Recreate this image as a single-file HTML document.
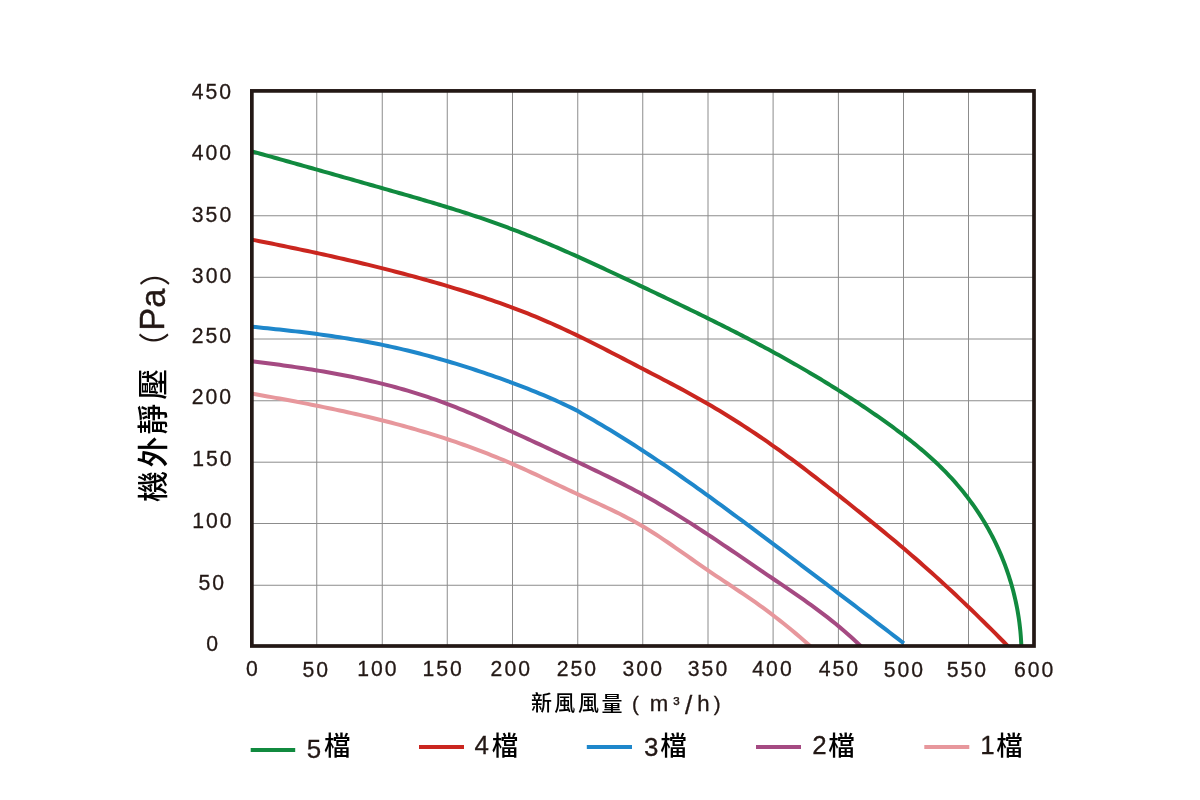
<!DOCTYPE html>
<html lang="zh-Hant"><head><meta charset="utf-8"><title>風量-靜壓曲線</title>
<style>html,body{margin:0;padding:0;background:#fff}body{width:1200px;height:800px;overflow:hidden}svg{display:block}.n{font-family:"Liberation Sans",sans-serif;fill:#231815}.c{font-family:"Liberation Sans","Noto Sans CJK TC",sans-serif;fill:#000;font-weight:500}.p{font-family:"Liberation Sans","Noto Sans CJK TC",sans-serif;fill:#231815;font-weight:400}.n{font-weight:400;stroke:#231815;stroke-width:.3px}#txt{opacity:.999}</style></head><body>
<svg width="1200" height="800" viewBox="0 0 1200 800">
<rect width="1200" height="800" fill="#fff"/>
<g stroke="#8c8c8c" stroke-width="1" fill="none">
<line x1="316.75" y1="90.9" x2="316.75" y2="646.0"/>
<line x1="382.25" y1="90.9" x2="382.25" y2="646.0"/>
<line x1="447.25" y1="90.9" x2="447.25" y2="646.0"/>
<line x1="512.5" y1="90.9" x2="512.5" y2="646.0"/>
<line x1="577.75" y1="90.9" x2="577.75" y2="646.0"/>
<line x1="642.75" y1="90.9" x2="642.75" y2="646.0"/>
<line x1="708.0" y1="90.9" x2="708.0" y2="646.0"/>
<line x1="773.1" y1="90.9" x2="773.1" y2="646.0"/>
<line x1="838.4" y1="90.9" x2="838.4" y2="646.0"/>
<line x1="903.5" y1="90.9" x2="903.5" y2="646.0"/>
<line x1="968.5" y1="90.9" x2="968.5" y2="646.0"/>
<line x1="251.85" y1="154.25" x2="1034.0" y2="154.25"/>
<line x1="251.85" y1="215.75" x2="1034.0" y2="215.75"/>
<line x1="251.85" y1="277.3" x2="1034.0" y2="277.3"/>
<line x1="251.85" y1="339.0" x2="1034.0" y2="339.0"/>
<line x1="251.85" y1="400.75" x2="1034.0" y2="400.75"/>
<line x1="251.85" y1="462.2" x2="1034.0" y2="462.2"/>
<line x1="251.85" y1="523.5" x2="1034.0" y2="523.5"/>
<line x1="251.85" y1="585.25" x2="1034.0" y2="585.25"/>
</g>
<clipPath id="plot"><rect x="251.85" y="90.9" width="782.15" height="555.1"/></clipPath>
<g clip-path="url(#plot)" fill="none" stroke-width="4.0" stroke-linejoin="round" stroke-linecap="butt">
<path stroke="#e7979c" d="M251.60,393.55 L255.60,394.26 L259.60,394.97 L263.60,395.69 L267.60,396.41 L271.60,397.13 L275.60,397.86 L279.60,398.59 L283.60,399.33 L287.60,400.07 L291.60,400.82 L295.60,401.58 L299.60,402.34 L303.60,403.11 L307.60,403.89 L311.60,404.68 L315.60,405.47 L319.60,406.28 L323.60,407.09 L327.60,407.92 L331.60,408.75 L335.60,409.60 L339.60,410.45 L343.60,411.32 L347.60,412.20 L351.60,413.09 L355.60,414.00 L359.60,414.92 L363.60,415.85 L367.60,416.79 L371.60,417.75 L375.60,418.73 L379.60,419.72 L383.60,420.72 L387.60,421.75 L391.60,422.78 L395.60,423.84 L399.60,424.91 L403.60,426.00 L407.60,427.11 L411.60,428.24 L415.60,429.38 L419.60,430.55 L423.60,431.73 L427.60,432.93 L431.60,434.16 L435.60,435.41 L439.60,436.67 L443.60,437.96 L447.60,439.27 L451.60,440.61 L455.60,441.96 L459.60,443.34 L463.60,444.75 L467.60,446.17 L471.60,447.63 L475.60,449.10 L479.60,450.61 L483.60,452.14 L487.60,453.69 L491.60,455.27 L495.60,456.88 L499.60,458.52 L503.60,460.18 L507.60,461.87 L511.60,463.60 L515.60,465.34 L519.60,467.12 L523.60,468.92 L527.60,470.75 L531.60,472.59 L535.60,474.44 L539.60,476.31 L543.60,478.19 L547.60,480.08 L551.60,481.97 L555.60,483.87 L559.60,485.76 L563.60,487.65 L567.60,489.54 L571.60,491.41 L575.60,493.27 L579.60,495.12 L583.60,496.96 L587.60,498.78 L591.60,500.61 L595.60,502.44 L599.60,504.28 L603.60,506.13 L607.60,508.01 L611.60,509.91 L615.60,511.85 L619.60,513.83 L623.60,515.85 L627.60,517.93 L631.60,520.06 L635.60,522.25 L639.60,524.51 L643.60,526.85 L647.60,529.27 L651.60,531.75 L655.60,534.30 L659.60,536.91 L663.60,539.57 L667.60,542.27 L671.60,545.00 L675.60,547.77 L679.60,550.56 L683.60,553.36 L687.60,556.18 L691.60,558.99 L695.60,561.80 L699.60,564.60 L703.60,567.37 L707.60,570.13 L711.60,572.85 L715.60,575.54 L719.60,578.21 L723.60,580.87 L727.60,583.52 L731.60,586.17 L735.60,588.83 L739.60,591.50 L743.60,594.19 L747.60,596.91 L751.60,599.67 L755.60,602.47 L759.60,605.31 L763.60,608.21 L767.60,611.16 L771.60,614.17 L775.60,617.24 L779.60,620.36 L783.60,623.53 L787.60,626.76 L791.60,630.04 L795.60,633.38 L799.60,636.77 L803.60,640.21 L807.60,643.71 L811.60,647.26"/>
<path stroke="#a54a82" d="M251.60,361.24 L255.60,361.73 L259.60,362.23 L263.60,362.74 L267.60,363.26 L271.60,363.78 L275.60,364.31 L279.60,364.85 L283.60,365.40 L287.60,365.96 L291.60,366.53 L295.60,367.11 L299.60,367.70 L303.60,368.31 L307.60,368.93 L311.60,369.56 L315.60,370.21 L319.60,370.87 L323.60,371.55 L327.60,372.25 L331.60,372.96 L335.60,373.69 L339.60,374.44 L343.60,375.21 L347.60,376.00 L351.60,376.81 L355.60,377.64 L359.60,378.49 L363.60,379.37 L367.60,380.26 L371.60,381.18 L375.60,382.13 L379.60,383.10 L383.60,384.10 L387.60,385.12 L391.60,386.17 L395.60,387.25 L399.60,388.36 L403.60,389.49 L407.60,390.65 L411.60,391.85 L415.60,393.07 L419.60,394.33 L423.60,395.62 L427.60,396.94 L431.60,398.30 L435.60,399.69 L439.60,401.11 L443.60,402.57 L447.60,404.07 L451.60,405.60 L455.60,407.17 L459.60,408.77 L463.60,410.40 L467.60,412.05 L471.60,413.74 L475.60,415.44 L479.60,417.17 L483.60,418.92 L487.60,420.69 L491.60,422.47 L495.60,424.27 L499.60,426.07 L503.60,427.89 L507.60,429.71 L511.60,431.54 L515.60,433.38 L519.60,435.21 L523.60,437.05 L527.60,438.89 L531.60,440.73 L535.60,442.58 L539.60,444.43 L543.60,446.28 L547.60,448.13 L551.60,449.99 L555.60,451.84 L559.60,453.71 L563.60,455.57 L567.60,457.44 L571.60,459.31 L575.60,461.18 L579.60,463.05 L583.60,464.93 L587.60,466.81 L591.60,468.70 L595.60,470.61 L599.60,472.52 L603.60,474.45 L607.60,476.39 L611.60,478.36 L615.60,480.34 L619.60,482.35 L623.60,484.39 L627.60,486.45 L631.60,488.54 L635.60,490.67 L639.60,492.83 L643.60,495.02 L647.60,497.26 L651.60,499.53 L655.60,501.83 L659.60,504.17 L663.60,506.54 L667.60,508.95 L671.60,511.38 L675.60,513.84 L679.60,516.33 L683.60,518.84 L687.60,521.38 L691.60,523.94 L695.60,526.52 L699.60,529.12 L703.60,531.74 L707.60,534.38 L711.60,537.03 L715.60,539.70 L719.60,542.38 L723.60,545.07 L727.60,547.77 L731.60,550.48 L735.60,553.20 L739.60,555.93 L743.60,558.65 L747.60,561.39 L751.60,564.12 L755.60,566.85 L759.60,569.59 L763.60,572.32 L767.60,575.04 L771.60,577.76 L775.60,580.48 L779.60,583.19 L783.60,585.90 L787.60,588.62 L791.60,591.35 L795.60,594.10 L799.60,596.87 L803.60,599.68 L807.60,602.51 L811.60,605.39 L815.60,608.31 L819.60,611.29 L823.60,614.32 L827.60,617.41 L831.60,620.57 L835.60,623.80 L839.60,627.11 L843.60,630.50 L847.60,633.99 L851.60,637.57 L855.60,641.25 L859.60,645.03 L861.60,646.97"/>
<path stroke="#1e87cb" d="M251.60,326.71 L255.60,327.10 L259.60,327.50 L263.60,327.90 L267.60,328.31 L271.60,328.72 L275.60,329.14 L279.60,329.57 L283.60,330.01 L287.60,330.45 L291.60,330.90 L295.60,331.37 L299.60,331.84 L303.60,332.32 L307.60,332.82 L311.60,333.32 L315.60,333.84 L319.60,334.38 L323.60,334.92 L327.60,335.48 L331.60,336.06 L335.60,336.65 L339.60,337.26 L343.60,337.88 L347.60,338.52 L351.60,339.18 L355.60,339.86 L359.60,340.55 L363.60,341.27 L367.60,342.00 L371.60,342.76 L375.60,343.53 L379.60,344.33 L383.60,345.16 L387.60,346.00 L391.60,346.87 L395.60,347.76 L399.60,348.67 L403.60,349.60 L407.60,350.56 L411.60,351.54 L415.60,352.53 L419.60,353.56 L423.60,354.60 L427.60,355.66 L431.60,356.74 L435.60,357.85 L439.60,358.97 L443.60,360.12 L447.60,361.29 L451.60,362.47 L455.60,363.68 L459.60,364.91 L463.60,366.15 L467.60,367.42 L471.60,368.70 L475.60,370.00 L479.60,371.33 L483.60,372.67 L487.60,374.03 L491.60,375.41 L495.60,376.80 L499.60,378.22 L503.60,379.65 L507.60,381.10 L511.60,382.57 L515.60,384.07 L519.60,385.58 L523.60,387.12 L527.60,388.69 L531.60,390.28 L535.60,391.90 L539.60,393.55 L543.60,395.22 L547.60,396.93 L551.60,398.67 L555.60,400.45 L559.60,402.26 L563.60,404.10 L567.60,405.98 L571.60,407.91 L575.60,409.87 L577.75,410.94 L581.75,413.54 L585.75,415.78 L589.75,418.05 L593.75,420.35 L597.75,422.68 L601.75,425.04 L605.75,427.42 L609.75,429.83 L613.75,432.26 L617.75,434.71 L621.75,437.20 L625.75,439.70 L629.75,442.23 L633.75,444.78 L637.75,447.36 L641.75,449.95 L645.75,452.57 L649.75,455.21 L653.75,457.87 L657.75,460.55 L661.75,463.24 L665.75,465.96 L669.75,468.70 L673.75,471.45 L677.75,474.22 L681.75,477.01 L685.75,479.81 L689.75,482.63 L693.75,485.46 L697.75,488.31 L701.75,491.18 L705.75,494.06 L709.75,496.95 L713.75,499.85 L717.75,502.77 L721.75,505.69 L725.75,508.63 L729.75,511.58 L733.75,514.54 L737.75,517.50 L741.75,520.47 L745.75,523.45 L749.75,526.44 L753.75,529.43 L757.75,532.43 L761.75,535.43 L765.75,538.43 L769.75,541.43 L773.75,544.44 L777.75,547.45 L781.75,550.46 L785.75,553.47 L789.75,556.49 L793.75,559.50 L797.75,562.52 L801.75,565.54 L805.75,568.56 L809.75,571.58 L813.75,574.60 L817.75,577.63 L821.75,580.66 L825.75,583.69 L829.75,586.72 L833.75,589.75 L837.75,592.79 L841.75,595.83 L845.75,598.87 L849.75,601.91 L853.75,604.96 L857.75,608.01 L861.75,611.06 L865.75,614.12 L869.75,617.18 L873.75,620.24 L877.75,623.30 L881.75,626.37 L885.75,629.44 L889.75,632.51 L893.75,635.59 L897.75,638.67 L901.75,641.76 L903.90,643.42"/>
<path stroke="#ca261f" d="M251.60,239.59 L255.60,240.38 L259.60,241.17 L263.60,241.97 L267.60,242.77 L271.60,243.58 L275.60,244.39 L279.60,245.20 L283.60,246.02 L287.60,246.84 L291.60,247.67 L295.60,248.51 L299.60,249.35 L303.60,250.19 L307.60,251.05 L311.60,251.90 L315.60,252.77 L319.60,253.64 L323.60,254.52 L327.60,255.40 L331.60,256.29 L335.60,257.19 L339.60,258.10 L343.60,259.01 L347.60,259.94 L351.60,260.87 L355.60,261.81 L359.60,262.75 L363.60,263.71 L367.60,264.67 L371.60,265.65 L375.60,266.63 L379.60,267.63 L383.60,268.63 L387.60,269.64 L391.60,270.66 L395.60,271.69 L399.60,272.74 L403.60,273.79 L407.60,274.86 L411.60,275.93 L415.60,277.02 L419.60,278.12 L423.60,279.22 L427.60,280.35 L431.60,281.48 L435.60,282.62 L439.60,283.78 L443.60,284.95 L447.60,286.14 L451.60,287.33 L455.60,288.54 L459.60,289.77 L463.60,291.01 L467.60,292.26 L471.60,293.53 L475.60,294.82 L479.60,296.13 L483.60,297.45 L487.60,298.80 L491.60,300.16 L495.60,301.55 L499.60,302.96 L503.60,304.39 L507.60,305.84 L511.60,307.32 L515.60,308.82 L519.60,310.34 L523.60,311.90 L527.60,313.47 L531.60,315.08 L535.60,316.71 L539.60,318.38 L543.60,320.07 L547.60,321.79 L551.60,323.54 L555.60,325.33 L559.60,327.14 L563.60,328.98 L567.60,330.84 L571.60,332.74 L575.60,334.65 L579.60,336.59 L583.60,338.54 L587.60,340.52 L591.60,342.51 L595.60,344.52 L599.60,346.54 L603.60,348.57 L607.60,350.62 L611.60,352.67 L615.60,354.74 L619.60,356.81 L623.60,358.88 L627.60,360.96 L631.60,363.04 L635.60,365.13 L639.60,367.21 L643.60,369.29 L647.60,371.36 L651.60,373.44 L655.60,375.51 L659.60,377.60 L663.60,379.68 L667.60,381.78 L671.60,383.89 L675.60,386.01 L679.60,388.14 L683.60,390.30 L687.60,392.47 L691.60,394.67 L695.60,396.89 L699.60,399.14 L703.60,401.41 L707.60,403.72 L711.60,406.06 L715.60,408.43 L719.60,410.82 L723.60,413.25 L727.60,415.71 L731.60,418.20 L735.60,420.72 L739.60,423.27 L743.60,425.85 L747.60,428.46 L751.60,431.10 L755.60,433.77 L759.60,436.48 L763.60,439.21 L767.60,441.98 L771.60,444.77 L775.60,447.60 L779.60,450.46 L783.60,453.35 L787.60,456.27 L791.60,459.21 L795.60,462.18 L799.60,465.17 L803.60,468.19 L807.60,471.23 L811.60,474.29 L815.60,477.37 L819.60,480.46 L823.60,483.58 L827.60,486.71 L831.60,489.85 L835.60,493.01 L839.60,496.17 L843.60,499.35 L847.60,502.54 L851.60,505.74 L855.60,508.95 L859.60,512.17 L863.60,515.39 L867.60,518.63 L871.60,521.87 L875.60,525.12 L879.60,528.38 L883.60,531.65 L887.60,534.94 L891.60,538.25 L895.60,541.58 L899.60,544.94 L903.60,548.32 L907.60,551.72 L911.60,555.16 L915.60,558.63 L919.60,562.12 L923.60,565.64 L927.60,569.19 L931.60,572.77 L935.60,576.38 L939.60,580.01 L943.60,583.67 L947.60,587.36 L951.60,591.08 L955.60,594.82 L959.60,598.59 L963.60,602.39 L967.60,606.21 L971.60,610.06 L975.60,613.93 L979.60,617.84 L983.60,621.76 L987.60,625.72 L991.60,629.70 L995.60,633.70 L999.60,637.73 L1003.60,641.78 L1007.60,645.86 L1009.00,647.30"/>
<path stroke="#118a3f" d="M251.67,151.35 L254.53,152.14 L257.39,152.93 L260.25,153.73 L263.12,154.53 L265.99,155.32 L268.86,156.12 L271.73,156.93 L274.61,157.73 L277.49,158.53 L280.36,159.34 L283.24,160.15 L286.13,160.96 L289.01,161.76 L291.89,162.57 L294.78,163.39 L297.66,164.20 L300.55,165.01 L303.44,165.83 L306.33,166.64 L309.22,167.46 L312.12,168.28 L315.01,169.09 L317.90,169.91 L320.80,170.73 L323.69,171.55 L326.59,172.37 L329.49,173.19 L332.38,174.01 L335.28,174.84 L338.18,175.66 L341.08,176.48 L343.98,177.30 L346.87,178.13 L349.77,178.95 L352.67,179.77 L355.57,180.60 L358.47,181.42 L361.37,182.25 L364.27,183.07 L367.16,183.89 L370.06,184.72 L372.96,185.54 L375.85,186.37 L378.75,187.19 L381.65,188.01 L384.54,188.84 L387.44,189.66 L390.33,190.48 L393.22,191.31 L396.11,192.13 L399.00,192.96 L401.89,193.78 L404.78,194.61 L407.67,195.44 L410.55,196.27 L413.44,197.10 L416.32,197.94 L419.20,198.78 L422.08,199.62 L424.96,200.46 L427.84,201.31 L430.71,202.16 L433.59,203.02 L436.46,203.88 L439.33,204.74 L442.19,205.61 L445.06,206.49 L447.92,207.37 L450.78,208.25 L453.64,209.14 L456.50,210.04 L459.35,210.94 L462.20,211.85 L465.05,212.76 L467.90,213.68 L470.74,214.61 L473.58,215.55 L476.42,216.49 L479.26,217.45 L482.09,218.41 L484.92,219.38 L487.75,220.35 L490.57,221.34 L493.39,222.34 L496.21,223.34 L499.02,224.36 L501.83,225.38 L504.64,226.42 L507.44,227.46 L510.24,228.51 L513.04,229.58 L515.84,230.65 L518.63,231.73 L521.42,232.82 L524.20,233.92 L526.98,235.03 L529.76,236.14 L532.54,237.27 L535.31,238.40 L538.08,239.54 L540.85,240.68 L543.62,241.84 L546.38,243.00 L549.14,244.17 L551.90,245.34 L554.66,246.52 L557.42,247.71 L560.17,248.90 L562.92,250.10 L565.67,251.30 L568.41,252.52 L571.16,253.73 L573.90,254.95 L576.64,256.18 L579.38,257.41 L582.11,258.64 L584.85,259.88 L587.58,261.13 L590.32,262.38 L593.05,263.63 L595.77,264.88 L598.50,266.14 L601.23,267.40 L603.95,268.67 L606.68,269.94 L609.40,271.21 L612.12,272.48 L614.84,273.76 L617.56,275.04 L620.28,276.32 L623.00,277.60 L625.72,278.88 L628.43,280.17 L631.15,281.45 L633.87,282.74 L636.58,284.03 L639.29,285.32 L642.01,286.60 L644.72,287.89 L647.43,289.18 L650.15,290.47 L652.86,291.76 L655.57,293.05 L658.28,294.35 L660.99,295.64 L663.70,296.93 L666.41,298.23 L669.12,299.52 L671.82,300.82 L674.53,302.12 L677.23,303.42 L679.94,304.72 L682.64,306.02 L685.34,307.33 L688.04,308.64 L690.74,309.95 L693.44,311.26 L696.14,312.57 L698.83,313.89 L701.53,315.21 L704.22,316.53 L706.91,317.86 L709.60,319.18 L712.28,320.51 L714.97,321.85 L717.65,323.19 L720.33,324.53 L723.01,325.87 L725.69,327.22 L728.37,328.57 L731.04,329.92 L733.71,331.28 L736.38,332.65 L739.05,334.01 L741.71,335.38 L744.38,336.76 L747.04,338.14 L749.69,339.53 L752.35,340.92 L755.00,342.31 L757.65,343.71 L760.30,345.11 L762.94,346.52 L765.58,347.94 L768.22,349.36 L770.86,350.79 L773.49,352.22 L776.12,353.65 L778.75,355.10 L781.37,356.55 L783.99,358.00 L786.61,359.46 L789.22,360.93 L791.84,362.41 L794.44,363.89 L797.05,365.38 L799.65,366.87 L802.24,368.37 L804.84,369.88 L807.43,371.40 L810.01,372.92 L812.60,374.45 L815.18,375.98 L817.75,377.53 L820.32,379.08 L822.89,380.63 L825.45,382.20 L828.01,383.77 L830.56,385.35 L833.11,386.93 L835.66,388.53 L838.20,390.13 L840.74,391.74 L843.27,393.35 L845.80,394.97 L848.33,396.60 L850.85,398.24 L853.36,399.88 L855.87,401.53 L858.38,403.19 L860.88,404.86 L863.37,406.53 L865.86,408.21 L868.35,409.90 L870.83,411.60 L873.31,413.30 L875.78,415.01 L878.24,416.73 L880.70,418.45 L883.16,420.19 L885.61,421.93 L888.05,423.68 L890.49,425.44 L892.92,427.21 L895.34,428.99 L897.75,430.78 L900.15,432.58 L902.54,434.39 L904.92,436.21 L907.29,438.05 L909.65,439.90 L912.00,441.77 L914.33,443.64 L916.65,445.54 L918.96,447.45 L921.25,449.37 L923.53,451.31 L925.79,453.27 L928.04,455.24 L930.27,457.23 L932.48,459.24 L934.67,461.27 L936.85,463.32 L939.00,465.39 L941.14,467.47 L943.26,469.58 L945.35,471.71 L947.43,473.86 L949.48,476.04 L951.51,478.23 L953.52,480.45 L955.50,482.69 L957.47,484.95 L959.40,487.23 L961.32,489.53 L963.21,491.85 L965.07,494.19 L966.91,496.56 L968.73,498.94 L970.52,501.34 L972.28,503.77 L974.01,506.21 L975.72,508.67 L977.40,511.16 L979.06,513.66 L980.68,516.18 L982.28,518.72 L983.85,521.28 L985.39,523.86 L986.89,526.46 L988.37,529.08 L989.82,531.71 L991.24,534.36 L992.63,537.03 L993.99,539.71 L995.32,542.41 L996.61,545.13 L997.88,547.86 L999.11,550.61 L1000.32,553.37 L1001.49,556.14 L1002.63,558.93 L1003.74,561.73 L1004.82,564.54 L1005.86,567.36 L1006.88,570.20 L1007.86,573.05 L1008.80,575.90 L1009.72,578.77 L1010.60,581.65 L1011.45,584.54 L1012.27,587.43 L1013.05,590.34 L1013.80,593.25 L1014.51,596.17 L1015.19,599.10 L1015.84,602.03 L1016.45,604.97 L1017.03,607.92 L1017.58,610.87 L1018.09,613.83 L1018.56,616.79 L1019.00,619.75 L1019.41,622.72 L1019.77,625.69 L1020.11,628.67 L1020.41,631.64 L1020.67,634.62 L1020.89,637.60 L1021.08,640.58 L1021.24,643.57 L1021.35,646.55 L1021.38,647.48"/>
</g>
<rect x="251.85" y="90.9" width="782.15" height="555.1" fill="none" stroke="#231815" stroke-width="3.7"/>
<g id="txt">
<text class="n" x="246.04" y="675.72" font-size="21.2" letter-spacing="2.0">0</text>
<text class="n" x="302.54" y="676.58" font-size="21.2" letter-spacing="2.0">50</text>
<text class="n" x="357.18" y="675.91" font-size="21.2" letter-spacing="2.0">100</text>
<text class="n" x="422.49" y="675.91" font-size="21.2" letter-spacing="2.0">150</text>
<text class="n" x="490.60" y="675.91" font-size="21.2" letter-spacing="2.0">200</text>
<text class="n" x="556.77" y="675.91" font-size="21.2" letter-spacing="2.0">250</text>
<text class="n" x="622.57" y="676.49" font-size="21.2" letter-spacing="2.0">300</text>
<text class="n" x="687.84" y="676.49" font-size="21.2" letter-spacing="2.0">350</text>
<text class="n" x="752.34" y="675.91" font-size="21.2" letter-spacing="2.0">400</text>
<text class="n" x="818.73" y="675.91" font-size="21.2" letter-spacing="2.0">450</text>
<text class="n" x="883.73" y="676.60" font-size="21.2" letter-spacing="2.0">500</text>
<text class="n" x="946.73" y="676.58" font-size="21.2" letter-spacing="2.0">550</text>
<text class="n" x="1013.94" y="676.54" font-size="21.2" letter-spacing="2.0">600</text>
<text class="n" x="191.79" y="98.61" font-size="21.2" letter-spacing="2.0">450</text>
<text class="n" x="191.79" y="159.81" font-size="21.2" letter-spacing="2.0">400</text>
<text class="n" x="191.84" y="221.79" font-size="21.2" letter-spacing="2.0">350</text>
<text class="n" x="191.86" y="282.59" font-size="21.2" letter-spacing="2.0">300</text>
<text class="n" x="191.68" y="343.01" font-size="21.2" letter-spacing="2.0">250</text>
<text class="n" x="191.68" y="404.41" font-size="21.2" letter-spacing="2.0">200</text>
<text class="n" x="192.18" y="466.41" font-size="21.2" letter-spacing="2.0">150</text>
<text class="n" x="192.18" y="528.01" font-size="21.2" letter-spacing="2.0">100</text>
<text class="n" x="198.54" y="590.08" font-size="21.2" letter-spacing="2.0">50</text>
<text class="n" x="206.13" y="651.01" font-size="21.2" letter-spacing="2.0">0</text>
<text class="n" x="306.81" y="758.28" font-size="25.9">5</text>
<text class="c" x="323.94" y="755.10" font-size="26.6">檔</text>
<text class="n" x="474.52" y="754.41" font-size="25.9">4</text>
<text class="c" x="491.87" y="755.08" font-size="26.6">檔</text>
<text class="n" x="644.00" y="755.76" font-size="25.9">3</text>
<text class="c" x="660.28" y="755.26" font-size="26.6">檔</text>
<text class="n" x="812.24" y="754.41" font-size="25.9">2</text>
<text class="c" x="828.17" y="755.10" font-size="26.6">檔</text>
<text class="n" x="980.15" y="754.41" font-size="25.9">1</text>
<text class="c" x="996.25" y="755.14" font-size="26.6">檔</text>
<text class="c"><tspan class="c" x="530.91" y="710.43" font-size="21.0" font-weight="400">新</tspan><tspan class="c" x="554.15" y="709.72" font-size="21.0" font-weight="400">風</tspan><tspan class="c" x="578.01" y="710.00" font-size="21.0" font-weight="400">風</tspan><tspan class="c" x="601.46" y="711.00" font-size="21.0" font-weight="400">量</tspan></text>
<text class="c"><tspan class="n" x="632.05" y="710.61" font-size="20.5">(</tspan><tspan class="n" x="649.63" y="711.41" font-size="22.2">m</tspan><tspan class="n" x="673.16" y="710.16" font-size="19.0" font-weight="700">³</tspan><tspan class="n" x="684.97" y="713.61" font-size="26.0">/</tspan><tspan class="n" x="697.31" y="711.41" font-size="22.2">h</tspan><tspan class="n" x="713.65" y="710.61" font-size="20.5">)</tspan></text>
<text class="c" transform="rotate(-90)"><tspan class="c" x="-501.97" y="163.89" font-size="31.0">機</tspan><tspan class="c" x="-467.63" y="164.20" font-size="31.0">外</tspan><tspan class="c" x="-434.78" y="163.65" font-size="31.0">靜</tspan><tspan class="c" x="-399.65" y="164.01" font-size="31.0">壓</tspan><tspan class="p" x="-362.98" y="165.46" font-size="31.0">（</tspan><tspan class="n" x="-330.81" y="163.71" font-size="34.6" stroke-width=".6">P</tspan><tspan class="n" x="-307.86" y="165.17" font-size="34.6" stroke-width=".6">a</tspan><tspan class="p" x="-286.37" y="166.24" font-size="31.0">）</tspan></text>
<line x1="250.7" y1="749.95" x2="295.2" y2="749.95" stroke="#118a3f" stroke-width="3.9"/>
<line x1="419.0" y1="746.95" x2="464.0" y2="746.95" stroke="#ca261f" stroke-width="3.9"/>
<line x1="586.8" y1="747.0" x2="632.0" y2="747.0" stroke="#1e87cb" stroke-width="3.9"/>
<line x1="756.0" y1="747.0" x2="801.0" y2="747.0" stroke="#a54a82" stroke-width="3.9"/>
<line x1="924.3" y1="747.0" x2="969.3" y2="747.0" stroke="#e7979c" stroke-width="3.9"/>
</g>
</svg></body></html>
